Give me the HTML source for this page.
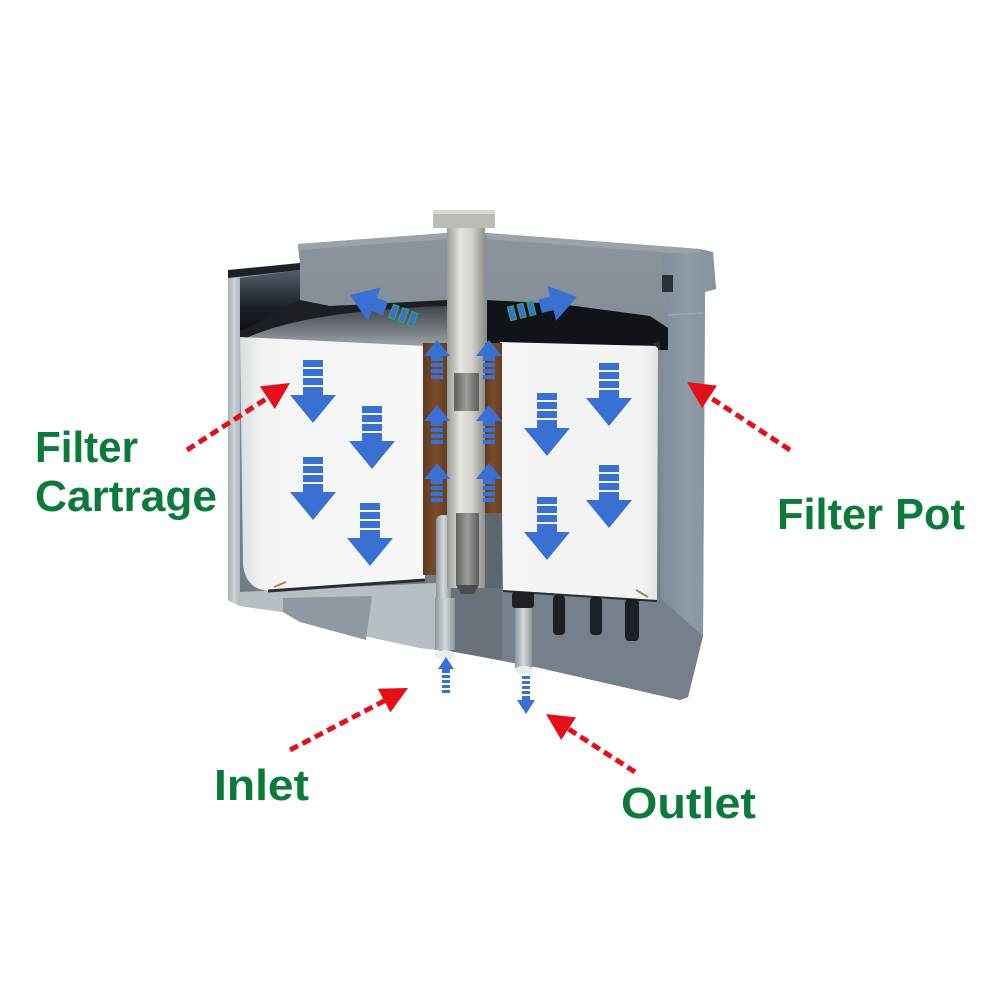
<!DOCTYPE html>
<html><head><meta charset="utf-8"><style>html,body{margin:0;padding:0;background:#fff}svg{display:block}</style></head>
<body>
<svg width="1000" height="1000" viewBox="0 0 1000 1000" xmlns="http://www.w3.org/2000/svg">
<defs>
  <linearGradient id="lidG" x1="0" y1="0" x2="0" y2="1">
    <stop offset="0" stop-color="#8b949c"/><stop offset="1" stop-color="#6b747d"/>
  </linearGradient>
  <linearGradient id="wallR" x1="0" y1="0" x2="1" y2="0">
    <stop offset="0" stop-color="#7f8b97"/><stop offset="0.5" stop-color="#8f9ba6"/><stop offset="1" stop-color="#86929e"/>
  </linearGradient>
  <linearGradient id="wallL" x1="0" y1="0" x2="1" y2="0">
    <stop offset="0" stop-color="#a6afb3"/><stop offset="0.5" stop-color="#cdd3d5"/><stop offset="1" stop-color="#aeb7ba"/>
  </linearGradient>
  <linearGradient id="darkL" x1="0" y1="0" x2="0" y2="1">
    <stop offset="0" stop-color="#55606b"/><stop offset="0.6" stop-color="#1a1f26"/><stop offset="1" stop-color="#0e1116"/>
  </linearGradient>
  <linearGradient id="diskG" x1="0" y1="0" x2="0" y2="1">
    <stop offset="0" stop-color="#3f454c"/><stop offset="0.5" stop-color="#6f757b"/><stop offset="1" stop-color="#a9aeb1"/>
  </linearGradient>
  <linearGradient id="cartL" x1="0" y1="0" x2="1" y2="0">
    <stop offset="0" stop-color="#d8dee0"/><stop offset="0.13" stop-color="#f3f5f5"/><stop offset="1" stop-color="#f6f7f7"/>
  </linearGradient>
  <linearGradient id="cartR" x1="0" y1="0" x2="1" y2="0">
    <stop offset="0" stop-color="#f4f5f5"/><stop offset="0.9" stop-color="#f2f3f3"/><stop offset="1" stop-color="#dfe3e4"/>
  </linearGradient>
  <linearGradient id="boltG" x1="0" y1="0" x2="1" y2="0">
    <stop offset="0" stop-color="#9a9b96"/><stop offset="0.35" stop-color="#e4e4df"/><stop offset="0.65" stop-color="#d3d3ce"/><stop offset="1" stop-color="#8e8f8a"/>
  </linearGradient>
  <linearGradient id="thrG" x1="0" y1="0" x2="1" y2="0">
    <stop offset="0" stop-color="#5f605c"/><stop offset="0.5" stop-color="#9c9d98"/><stop offset="1" stop-color="#5c5d59"/>
  </linearGradient>
  <linearGradient id="pipeG" x1="0" y1="0" x2="1" y2="0">
    <stop offset="0" stop-color="#8e969b"/><stop offset="0.5" stop-color="#d4d9db"/><stop offset="1" stop-color="#8e969b"/>
  </linearGradient>
  <linearGradient id="brownG" x1="0" y1="0" x2="1" y2="0">
    <stop offset="0" stop-color="#5e3a20"/><stop offset="0.5" stop-color="#7a4c2b"/><stop offset="1" stop-color="#623d22"/>
  </linearGradient>
  <g id="dn" fill="#3b70d3">
    <rect x="-10" y="0" width="20" height="7"/>
    <rect x="-10" y="9" width="20" height="7"/>
    <rect x="-10" y="18" width="20" height="7"/>
    <rect x="-10" y="27" width="20" height="9"/>
    <polygon points="-23,35 23,35 0,63"/>
  </g>
  <g id="up" fill="#3b70d3">
    <polygon points="0,0 -13,16 13,16"/>
    <rect x="-6" y="16" width="12" height="5"/>
    <rect x="-6" y="23" width="12" height="4"/>
    <rect x="-6" y="29" width="12" height="4"/>
    <rect x="-6" y="35" width="12" height="4"/>
  </g>
  <g id="diag" fill="#3b70d3">
    <polygon points="0,0 -26,-18 -26,18"/>
    <rect x="-38" y="-7" width="13" height="14"/>
    <rect x="-50" y="-7" width="6" height="14" stroke="#2fae5a" stroke-width="1"/>
    <rect x="-60" y="-7" width="6" height="14" stroke="#2fae5a" stroke-width="1"/>
    <rect x="-70" y="-7" width="6" height="14" stroke="#2fae5a" stroke-width="1"/>
  </g>
</defs>

<rect width="1000" height="1000" fill="#fff"/>

<!-- main body silhouette -->
<path d="M228,272 L300,265 L298,244 L447,233 L487,233 L700,249 L713,252 L716,289 L705,292 L703,636 L688,697 L680,700 L540,668 L455,652 L420,648 L300,622 L283,612 L240,606 L228,600 Z" fill="url(#lidG)"/>
<!-- lid top highlight -->
<path d="M298,244 L447,233 L447,239 L298,250 Z" fill="#9aa2aa"/>
<path d="M487,233 L700,249 L700,255 L487,239 Z" fill="#9aa2aa"/>

<!-- right rim & wall -->
<path d="M662,255 L713,252 L716,289 L705,292 L703,636 L688,697 L680,700 L672,690 L660,600 L660,345 L668,330 Z" fill="url(#wallR)"/>
<rect x="662" y="275" width="11" height="17" fill="#2a3036"/>
<line x1="668" y1="315" x2="703" y2="313" stroke="#9ca7b1" stroke-width="1.5"/>

<!-- left wall -->
<path d="M228,272 L240,276 L240,606 L228,600 Z" fill="url(#wallL)"/>
<path d="M228,270 L300,263 L300,270 L228,278 Z" fill="#1c2127"/>
<!-- left dark inner -->
<path d="M240,278 L300,270 L300,302 L240,332 Z" fill="url(#darkL)"/>

<!-- cavity -->
<path d="M240,332 L300,300 L330,306 L447,300 L447,350 L240,350 Z" fill="#1b1f24"/>
<path d="M487,300 L560,304 L650,316 L668,328 L668,350 L487,350 Z" fill="#101317"/>
<!-- left disk -->
<path d="M240,341 C285,318 360,309 447,306 L447,350 L240,350 Z" fill="url(#diskG)"/>

<!-- lower regions -->
<path d="M500,586 L660,598 L703,636 L688,697 L680,700 L540,668 L500,660 Z" fill="#75808b"/>
<path d="M437,575 L502,575 L502,660 L455,652 L437,650 Z" fill="#69727b"/>
<!-- left lower block -->
<path d="M240,592 L437,583 L437,650 L420,648 L300,622 L283,612 L240,606 Z" fill="#b6bfc3"/>
<path d="M283,598 L372,596 L366,640 L300,622 L283,612 Z" fill="#8f99a1"/>

<!-- cartridges -->
<path d="M240,337 L425,346 L425,580 L270,591 C252,590 245,580 243,565 Z" fill="url(#cartL)"/>
<path d="M500,342 L658,346 L657,600 L503,590 Z" fill="url(#cartR)"/>
<path d="M268,591 L425,580" stroke="#2a2e33" stroke-width="3" fill="none"/>
<path d="M503,591 L657,601" stroke="#2a2e33" stroke-width="2" fill="none"/>
<path d="M652,343 L660,342 L660,350 Z" fill="#2a2e33"/>
<path d="M274,587 L286,582" stroke="#b0834f" stroke-width="2"/>
<path d="M636,590 L648,597" stroke="#b0834f" stroke-width="2"/>

<!-- brown tube -->
<rect x="423" y="343" width="25" height="232" fill="url(#brownG)"/>
<rect x="485" y="343" width="17" height="172" fill="url(#brownG)"/>
<rect x="485" y="513" width="17" height="75" fill="#5d656d"/>

<!-- inlet pipe -->
<rect x="436" y="515" width="15" height="135" rx="6" fill="url(#pipeG)"/>
<rect x="435" y="598" width="20" height="52" fill="url(#pipeG)"/>
<ellipse cx="445" cy="655" rx="10" ry="5" fill="#e9eced"/>

<!-- bolt -->
<rect x="447" y="226" width="38" height="362" fill="url(#boltG)"/>
<rect x="433" y="210" width="62" height="18" fill="#bcbcb6"/>
<rect x="433" y="210" width="62" height="4" fill="#d9d9d4"/>
<rect x="454" y="373" width="25" height="38" fill="url(#thrG)"/>
<rect x="456" y="513" width="23" height="72" fill="url(#thrG)"/>
<path d="M456,585 L479,585 L474,594 L461,594 Z" fill="#4d4e4b"/>

<!-- outlet pipe & slots -->
<rect x="515" y="605" width="17" height="63" fill="url(#pipeG)"/>
<rect x="512" y="592" width="22" height="16" rx="3" fill="#1d2126"/>
<rect x="553" y="595" width="12" height="40" rx="4" fill="#1c2024"/>
<rect x="590" y="597" width="12" height="38" rx="4" fill="#1c2024"/>
<rect x="625" y="599" width="14" height="42" rx="4" fill="#1c2024"/>
<ellipse cx="524" cy="670" rx="9" ry="4" fill="#e9eced"/>

<!-- blue flow arrows -->
<use href="#dn" x="313" y="360"/>
<use href="#dn" x="372" y="406"/>
<use href="#dn" x="313" y="457"/>
<use href="#dn" x="370" y="503"/>
<use href="#dn" x="547" y="393"/>
<use href="#dn" x="609" y="363"/>
<use href="#dn" x="547" y="497"/>
<use href="#dn" x="609" y="465"/>

<use href="#up" x="437" y="340"/>
<use href="#up" x="437" y="405"/>
<use href="#up" x="437" y="463"/>
<use href="#up" x="489" y="340"/>
<use href="#up" x="489" y="405"/>
<use href="#up" x="489" y="463"/>

<use href="#diag" transform="translate(350,295) rotate(-159)"/>
<use href="#diag" transform="translate(577,297) rotate(-14)"/>

<!-- small inlet/outlet arrows -->
<g fill="#3b70d3">
  <polygon points="446,657 438,669 454,669"/>
  <rect x="442" y="669" width="8" height="4"/>
  <rect x="442" y="675" width="8" height="3"/>
  <rect x="442" y="680" width="8" height="3"/>
  <rect x="442" y="685" width="8" height="3"/>
  <rect x="442" y="690" width="8" height="3"/>
  <rect x="522" y="676" width="8" height="3"/>
  <rect x="522" y="681" width="8" height="3"/>
  <rect x="522" y="686" width="8" height="3"/>
  <rect x="522" y="691" width="8" height="3"/>
  <rect x="522" y="696" width="8" height="5"/>
  <polygon points="517,700 535,700 526,714"/>
</g>

<!-- red dashed pointers -->
<g stroke="#e3101b" stroke-width="5" stroke-dasharray="9 5" fill="none">
  <line x1="187" y1="450" x2="269" y2="397"/>
  <line x1="790" y1="450" x2="708" y2="396"/>
  <line x1="290" y1="750" x2="386" y2="700"/>
  <line x1="635" y1="772" x2="567" y2="728"/>
</g>
<g fill="#e3101b">
  <polygon points="290,383 274.8,409 260,386.4"/>
  <polygon points="687,382 716.9,385.6 702.1,408.2"/>
  <polygon points="408,688 390.4,712.5 377.8,688.7"/>
  <polygon points="546,714 576,717.4 561.2,740"/>
</g>

<!-- labels -->
<g font-family="'Liberation Sans', Arial, sans-serif" font-weight="bold" font-size="44" fill="#0b7a3a">
  <text x="35" y="462" textLength="103" lengthAdjust="spacingAndGlyphs">Filter</text>
  <text x="35" y="511" textLength="182" lengthAdjust="spacingAndGlyphs">Cartrage</text>
  <text x="777" y="529" textLength="188" lengthAdjust="spacingAndGlyphs">Filter Pot</text>
  <text x="214" y="800" textLength="95" lengthAdjust="spacingAndGlyphs">Inlet</text>
  <text x="621" y="818" textLength="135" lengthAdjust="spacingAndGlyphs">Outlet</text>
</g>
</svg>
</body></html>
